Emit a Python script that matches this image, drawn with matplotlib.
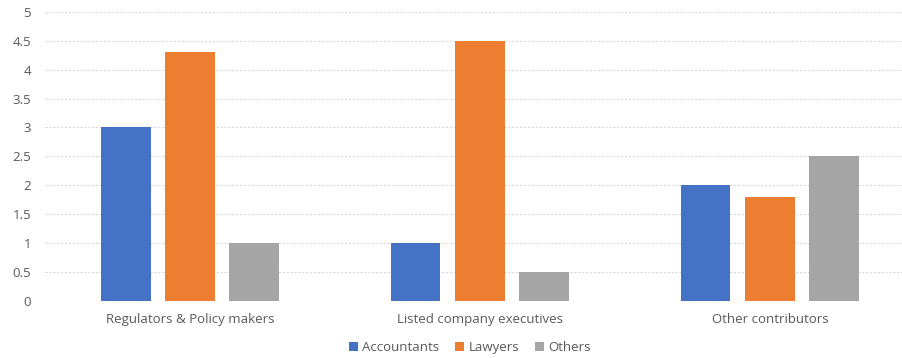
import numpy as np
import matplotlib
matplotlib.use("Agg")
import matplotlib.pyplot as plt

plt.rcParams['font.family'] = ['Open Sans', 'DejaVu Sans']
plt.rcParams['hatch.color'] = '#8c8c8c'
plt.rcParams['hatch.linewidth'] = 0.4

categories = ["Regulators & Policy makers", "Listed company executives", "Other contributors"]
accountants = [3, 1, 2]
lawyers = [4.3, 4.5, 1.8]
others = [1, 0.5, 2.5]

fig = plt.figure(figsize=(9.03, 3.58), dpi=100)
ax = fig.add_axes([0.0498, 0.160, 0.9502, 0.8065])

x = np.arange(len(categories))
w = 0.172
step = 0.222
ax.bar(x - step, accountants, w, color="#4472C4", label="Accountants", zorder=3)
ax.bar(x, lawyers, w, color="#ED7D31", label="Lawyers", zorder=3)
ax.bar(x + step, others, w, color="#A5A5A5", label="Others", zorder=3,
       hatch="......", edgecolor="#A5A5A5", linewidth=0)

ax.set_xlim(-0.5, 2.459)
ax.set_ylim(0, 5)
ax.set_yticks(np.arange(0, 5.01, 0.5))
ax.set_yticklabels(["0", "0.5", "1", "1.5", "2", "2.5", "3", "3.5", "4", "4.5", "5"])
ax.set_xticks(x)
ax.set_xticklabels(categories)
ax.tick_params(length=0, colors="#595959", labelsize=9.5)
ax.tick_params(axis="x", pad=9)
ax.tick_params(axis="y", pad=10)
ax.grid(axis="y", color="#D9D9D9", linestyle=(0, (2, 1.5)), linewidth=0.8, zorder=0)
for s in ax.spines.values():
    s.set_visible(False)

leg = ax.legend(loc="upper center", bbox_to_anchor=(0.495, -0.10), ncol=3, frameon=False,
                fontsize=9.5, handlelength=0.7, handleheight=0.7, handletextpad=0.3,
                columnspacing=1.2)
for t in leg.get_texts():
    t.set_color("#595959")

fig.savefig("out.png", dpi=100)
